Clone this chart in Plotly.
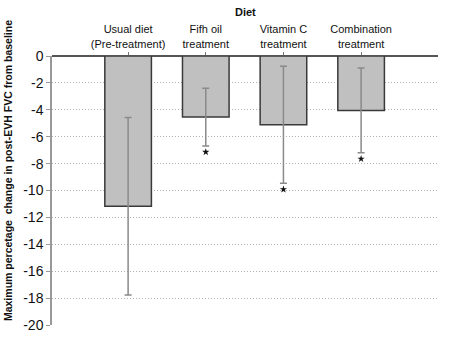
import plotly.graph_objects as go

categories = ["Usual diet<br>(Pre-treatment)", "Fifh oil<br>treatment", "Vitamin C<br>treatment", "Combination<br>treatment"]
means = [-11.17, -4.54, -5.12, -4.05]
errors = [6.6, 2.15, 4.35, 3.15]
significant = [False, True, True, True]
y_ticks = [0, -2, -4, -6, -8, -10, -12, -14, -16, -18, -20]

x_idx = list(range(len(categories)))

fig = go.Figure()
fig.add_trace(go.Bar(
    x=x_idx, y=means, width=0.6,
    marker=dict(color="#c0c0c0", line=dict(color="#3a3a3a", width=1.5)),
    error_y=dict(type="data", array=errors, visible=True, color="#8a8a8a", thickness=1.5, width=3.5),
    showlegend=False, hoverinfo="skip",
))

star_x = [x for x, s in zip(x_idx, significant) if s]
star_y = [m - e - 0.45 for m, e, s in zip(means, errors, significant) if s]
fig.add_trace(go.Scatter(
    x=star_x, y=star_y, mode="markers",
    marker=dict(symbol="star", size=5.5, color="#111"),
    showlegend=False, hoverinfo="skip",
))

fig.update_layout(
    width=450, height=341,
    margin=dict(l=52, r=12, t=56, b=16),
    paper_bgcolor="white", plot_bgcolor="white",
    font=dict(family="Liberation Sans, Arial, sans-serif", color="#111"),
    xaxis=dict(
        side="top", range=[-0.98, 3.99], automargin=False,
        tickvals=x_idx, ticktext=categories,
        tickfont=dict(size=11, color="#111"),
        ticks="outside", ticklen=3, tickcolor="#777", tickwidth=1,
        showline=False, showgrid=False, zeroline=False,
        fixedrange=True,
    ),
    yaxis=dict(
        range=[-20, 0], tickvals=y_ticks, ticktext=[str(v) for v in y_ticks],
        automargin=False, fixedrange=True,
        tickfont=dict(size=14, color="#111"),
        ticks="outside", ticklen=4, tickcolor="#999", tickwidth=1,
        showline=True, linecolor="#999", linewidth=1.5,
        showgrid=True, gridcolor="#b0b0b0", griddash="1px,2px", gridwidth=1,
        zeroline=True, zerolinecolor="#555", zerolinewidth=1.5,
    ),
    annotations=[
        dict(text="<b>Diet</b>", xref="paper", yref="paper", x=0.5, y=1.163,
             showarrow=False, font=dict(size=11, color="#111"), xanchor="center", yanchor="middle"),
        dict(text="<b>Maximum percetage  change in post-EVH FVC from baseline</b>",
             xref="paper", yref="paper", x=-0.114, y=0.576, textangle=-90,
             showarrow=False, font=dict(size=10.5, color="#111"), xanchor="center", yanchor="middle"),
    ],
)

fig.write_html("out.html", config={"displayModeBar": False},
               post_script="document.body.style.margin='0';document.body.style.overflow='hidden';")
